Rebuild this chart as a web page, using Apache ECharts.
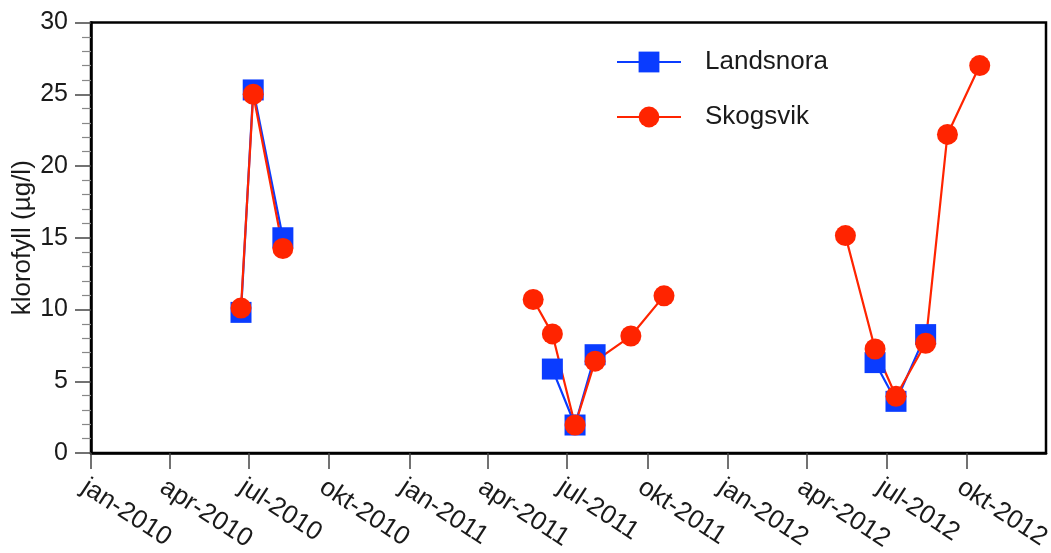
<!DOCTYPE html>
<html>
<head>
<meta charset="utf-8">
<script src="https://cdn.jsdelivr.net/npm/echarts@6/dist/echarts.min.js"></script>
<style>
html,body{margin:0;padding:0;background:#fff;}
#chart{width:1051px;height:553px;}
</style>
</head>
<body>
<div id="chart"></div>
<script>
// ---- data ----
const tickDates = ['2010-01-01','2010-04-01','2010-07-01','2010-10-01','2011-01-01','2011-04-01','2011-07-01','2011-10-01','2012-01-01','2012-04-01','2012-07-01','2012-10-01'];
const tickLabels = ['jan-2010','apr-2010','jul-2010','okt-2010','jan-2011','apr-2011','jul-2011','okt-2011','jan-2012','apr-2012','jul-2012','okt-2012'];
const xMinDate = '2010-01-01';
const xMaxDate = '2012-12-31';

const landsnoraDates = ['2010-06-22','2010-07-06','2010-08-09', null, '2011-06-14','2011-07-10','2011-08-02', null, '2012-06-18','2012-07-12','2012-08-15'];
const landsnoraValues = [9.8, 25.3, 15.0, null, 5.85, 1.95, 6.85, null, 6.3, 3.6, 8.25];

const skogsvikDates = ['2010-06-22','2010-07-06','2010-08-09', null, '2011-05-23','2011-06-14','2011-07-10','2011-08-02','2011-09-12','2011-10-20', null, '2012-05-15','2012-06-18','2012-07-12','2012-08-15','2012-09-09','2012-10-16'];
const skogsvikValues = [10.1, 25.0, 14.25, null, 10.7, 8.3, 1.95, 6.4, 8.15, 10.95, null, 15.15, 7.25, 3.95, 7.65, 22.2, 27.0];

const yTitle = 'klorofyll (µg/l)';
// ---------------

function ts(d){ const p = d.split('-').map(Number); return Date.UTC(p[0], p[1]-1, p[2]); }
function pairs(dates, vals){
  return dates.map((d,i)=> d === null ? ['-','-'] : [ts(d), vals[i]]);
}
const tickTs = tickDates.map(ts);

const chart = echarts.init(document.getElementById('chart'), null, {renderer:'canvas'});
const font = 'Liberation Sans, Arial, sans-serif';
chart.setOption({
  animation:false,
  backgroundColor:'#fff',
  grid:{left:91, right:5, top:22.5, bottom:100, show:true, borderColor:'#000', borderWidth:2.5,
        backgroundColor:'transparent', containLabel:false, outerBoundsMode:'none'},
  legend:{
    orient:'vertical', left:611, top:44, itemWidth:64, itemHeight:26, itemGap:29,
    textStyle:{fontFamily:font, fontSize:26, color:'#1a1a1a', padding:[0,0,0,19]},
    data:['Landsnora','Skogsvik']
  },
  xAxis:{
    type:'value', min:ts(xMinDate), max:ts(xMaxDate),
    axisLine:{lineStyle:{color:'#000', width:2.5}},
    axisTick:{show:true, length:16, customValues:tickTs, lineStyle:{color:'#444', width:1.5}},
    axisLabel:{customValues:tickTs, rotate:-33, margin:21, verticalAlign:'top', align:'left',
      fontFamily:font, fontSize:26, color:'#1a1a1a',
      formatter:function(v){ const i = tickTs.indexOf(v); return i>=0 ? tickLabels[i] : ''; }},
    splitLine:{show:false}
  },
  yAxis:{
    type:'value', min:0, max:30, interval:5,
    name:yTitle, nameLocation:'middle', nameGap:55, nameRotate:90, nameMoveOverlap:false,
    nameTextStyle:{fontFamily:font, fontSize:26, color:'#1a1a1a'},
    axisLine:{show:true, lineStyle:{color:'#000', width:2.5}},
    axisTick:{show:true, length:16, lineStyle:{color:'#444', width:1.5}},
    minorTick:{show:true, splitNumber:5, length:9, lineStyle:{color:'#888', width:1.2}},
    axisLabel:{margin:23, fontFamily:font, fontSize:25, color:'#1a1a1a'},
    splitLine:{show:false}
  },
  series:[
    {name:'Landsnora', type:'line', data:pairs(landsnoraDates, landsnoraValues),
     symbol:'rect', symbolSize:21, connectNulls:false,
     itemStyle:{color:'#0a3cff'}, lineStyle:{color:'#0a3cff', width:2.2}},
    {name:'Skogsvik', type:'line', data:pairs(skogsvikDates, skogsvikValues),
     symbol:'circle', symbolSize:21, connectNulls:false,
     itemStyle:{color:'#ff2400'}, lineStyle:{color:'#ff2400', width:2.2}}
  ]
});
</script>
</body>
</html>
